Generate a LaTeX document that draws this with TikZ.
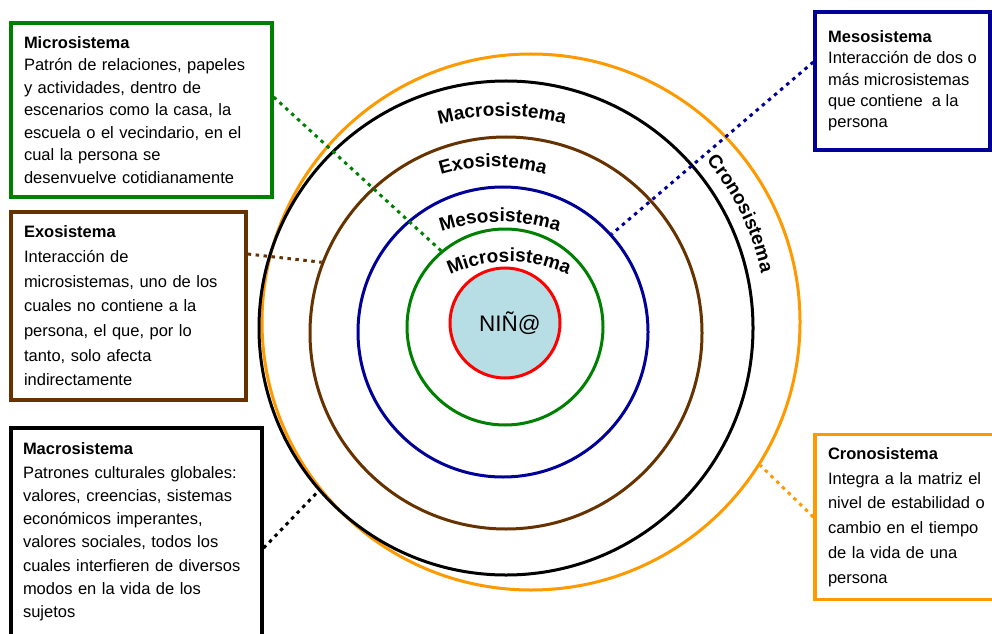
\documentclass[tikz,border=0pt]{standalone}
\usepackage{fontspec}
\setmainfont{Liberation Sans}
\usepackage{tikz}
\usetikzlibrary{shapes.geometric,decorations.text}

\definecolor{microgreen}{RGB}{0,128,0}
\definecolor{exobrown}{RGB}{102,51,0}
\definecolor{mesoblue}{RGB}{0,0,153}
\definecolor{cronoorange}{RGB}{255,153,0}
\definecolor{ninofill}{RGB}{183,222,228}

\newcommand{\boxfont}[1]{\fontsize{16.5}{#1}\selectfont}
\newcommand{\lblfont}{\fontsize{19}{19}\selectfont\bfseries}

\tikzset{arclbl/.style={decorate,decoration={text along path,text align=center,text={|\lblfont|#1}}}}

\begin{document}
\begin{tikzpicture}[x=1pt,y=1pt]
\tikzstyle{ring}=[circle,draw,line width=3pt,inner sep=0pt]
\tikzstyle{infobox}=[rectangle,draw,line width=3.3pt,align=left,inner xsep=13pt,inner ysep=4pt]
\tikzstyle{dotline}=[line width=3pt,dash pattern=on 3.5pt off 4.5pt]
\useasboundingbox (0,0) rectangle (992,633);
\clip (0,0) rectangle (992,633);
% rings, outside in
\node [ellipse,draw=cronoorange,line width=3pt,inner sep=0pt,minimum width=538,minimum height=536] (Rcr) at (531,311) {};
\node [ring,minimum size=494] (Rma) at (506,305) {};
\node [ring,draw=exobrown,minimum size=392] (Rex) at (506,300) {};
\node [ring,draw=mesoblue,minimum size=290] (Rme) at (503,301) {};
\node [ring,draw=microgreen,minimum size=196] (Rmi) at (505,306) {};
\node [ring,draw=red,fill=ninofill,minimum size=110,font=\fontsize{22.5}{22.5}\selectfont] (Rn) at (505,310) {\hspace*{10pt}NIÑ@};
% ring labels
\path [arclbl=Macrosistema] ([shift={(135:240)}]502,277) arc [start angle=135,end angle=45,radius=240];
\path [arclbl=Exosistema] ([shift={(135:175)}]493,291) arc [start angle=135,end angle=45,radius=175];
\path [arclbl=Mesosistema] ([shift={(135:185)}]500,226) arc [start angle=135,end angle=45,radius=185];
\path [arclbl=Microsistema] ([shift={(150:140)}]509,231) arc [start angle=150,end angle=30,radius=140];
\path [arclbl=Cronosistema] ([shift={(52:261)}]506,305) arc [start angle=52,end angle=0,radius=261];
% boxes
\node [infobox,draw=microgreen,text width=235,minimum height=174,font=\boxfont{22.5}] (Bmi) at (141.5,523)
{\textbf{Microsistema}\\Patrón de relaciones, papeles\\y actividades, dentro de\\escenarios como la casa, la\\escuela o el vecindario, en el\\cual la persona se\\desenvuelve cotidianamente};
\node [infobox,draw=exobrown,text width=209,minimum height=188,font=\boxfont{24.7}] (Bex) at (128.5,327)
{\textbf{Exosistema}\\Interacción de\\microsistemas, uno de los\\cuales no contiene a la\\persona, el que, por lo\\tanto, solo afecta\\indirectamente};
\node [infobox,draw=black,inner xsep=12pt,text width=227,minimum height=208,font=\boxfont{23.3}] (Bma) at (136.5,101)
{\textbf{Macrosistema}\\Patrones culturales globales:\\valores, creencias, sistemas\\económicos imperantes,\\valores sociales, todos los\\cuales interfieren de diversos\\modos en la vida de los\\sujetos};
\node [infobox,draw=mesoblue,inner xsep=4pt,minimum width=175,minimum height=138,font=\boxfont{21.3}] (Bme) at (902.5,552)
{\textbf{Mesosistema}\\Interacción de dos o\\más microsistemas\\que contiene \ a la\\persona};
\node [infobox,draw=cronoorange,text width=159,minimum height=165,font=\boxfont{24.7}] (Bcr) at (907.5,116)
{\textbf{Cronosistema}\\Integra a la matriz el\\nivel de estabilidad o\\cambio en el tiempo\\de la vida de una\\persona};
% dotted links
\draw [dotline,microgreen] ([yshift=13pt]Bmi.east) -- (Rmi.130);
\draw [dotline,exobrown] ([yshift=52pt]Bex.east) -- (Rex.159);
\draw [dotline,black] ([yshift=-16pt]Bma.east) -- (Rma.221);
\draw [dotline,mesoblue] ([yshift=19pt]Bme.west) -- (Rme.42);
\draw [dotline,cronoorange] (Bcr.west) -- (Rcr.328);
\end{tikzpicture}
\end{document}
